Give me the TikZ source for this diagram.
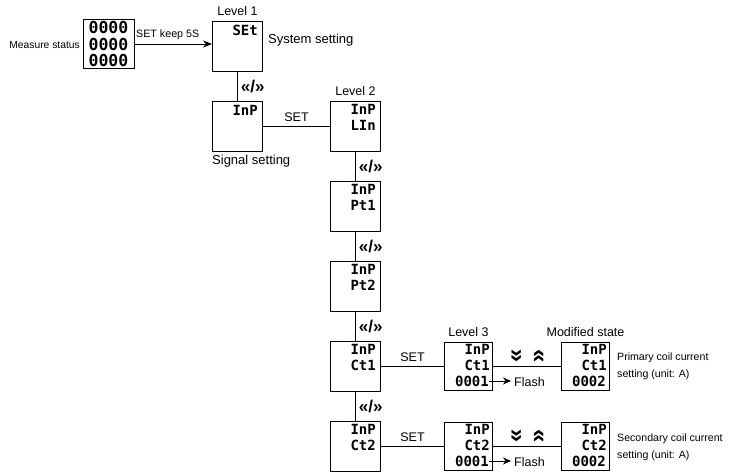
\documentclass[tikz,border=0pt]{standalone}
\usepackage{fontspec}
\setmainfont{Liberation Sans}
\newfontfamily\segfont{DejaVu Sans Mono}
\usetikzlibrary{arrows.meta, positioning, calc}

\begin{document}
\begin{tikzpicture}[x=1pt, y=-1pt,
    panel/.style={draw, line width=1pt, minimum width=50pt, minimum height=50pt, inner sep=0pt, anchor=north west},
    smallpanel/.style={panel, minimum width=48pt, minimum height=48pt},
    lcd/.style={font=\segfont\bfseries\fontsize{14}{14}\selectfont, inner sep=0pt, anchor=east},
    bigdigit/.style={font=\segfont\bfseries\fontsize{16.5}{16.5}\selectfont, inner sep=0pt},
    lbl/.style={font=\fontsize{12.5}{14}\selectfont, inner sep=0pt},
    note/.style={font=\fontsize{10.6}{17}\selectfont, inner sep=0pt, anchor=west, align=left},
    swap/.style={font=\bfseries\fontsize{17}{17}\selectfont, inner sep=0pt},
    chev/.style={font=\bfseries\fontsize{24}{24}\selectfont, inner sep=0pt},
    link/.style={line width=0.9pt}]
    \useasboundingbox (0,0) rectangle (729,472);

    % measure status
    \node[panel, minimum width=51pt, minimum height=49pt] (meas) at (83,19) {};
    \node[bigdigit] (m1) at (108.5,27) {0000};
    \node[bigdigit] (m2) at (108.5,44) {0000};
    \node[bigdigit] (m3) at (108.5,60) {0000};
    \node[font=\fontsize{10.3}{12}\selectfont, inner sep=0pt, anchor=east] (mtxt) at (80,45) {Measure status};

    % level 1
    \node[panel] (lv1) at (212,21) {};
    \node[lcd] (set) at ($(lv1.north east)+(-5,9)$) {SEt};
    \node[lbl, above=5pt of lv1] (lev1) {Level 1};
    \node[lbl, font=\fontsize{13}{15}\selectfont, anchor=west] (sys) at (268,40) {System setting};
    \node[panel] (inp) at (212,101) {};
    \node[lcd] (inpt) at ($(inp.north east)+(-5,9)$) {InP};
    \node[lbl, font=\fontsize{13}{15}\selectfont, anchor=west] (sig) at (212,161) {Signal setting};

    \draw[link, -{Stealth[length=9pt, width=7pt]}] (meas.east) -- (meas.east -| lv1.west);
    \node[font=\fontsize{10.7}{12}\selectfont, inner sep=0pt, anchor=base west] (keep) at (136,37) {SET keep 5S};
    \draw[link] (lv1.south) -- node[swap, right=3pt] (sw0) {«/»} (inp.north);

    % level 2
    \node[panel] (lin) at (330,101) {};
    \node[panel] (pt1) at (330,181) {};
    \node[panel] (pt2) at (330,261) {};
    \node[panel] (ct1) at (330,341) {};
    \node[panel] (ct2) at (330,421) {};
    \node[lbl, above=5pt of lin] (lev2) {Level 2};
    \foreach \b/\t in {lin/LIn, pt1/Pt1, pt2/Pt2, ct1/Ct1, ct2/Ct2} {
        \node[lcd] (\b a) at ($(\b.north east)+(-5,8)$) {InP};
        \node[lcd] (\b b) at ($(\b.north east)+(-5,24)$) {\t};
    }
    \draw[link] (inp.east) -- node[lbl, above=4pt] (set1) {SET} (lin.west);
    \draw[link] (lin.south) -- node[swap, right=3pt] (sw1) {«/»} (pt1.north);
    \draw[link] (pt1.south) -- node[swap, right=3pt] (sw2) {«/»} (pt2.north);
    \draw[link] (pt2.south) -- node[swap, right=3pt] (sw3) {«/»} (ct1.north);
    \draw[link] (ct1.south) -- node[swap, right=3pt] (sw4) {«/»} (ct2.north);

    % level 3
    \node[smallpanel] (l3a) at (444,342) {};
    \node[smallpanel] (moda) at (561,342) {};
    \node[smallpanel] (l3b) at (444,422) {};
    \node[smallpanel] (modb) at (561,422) {};
    \node[lbl, above=5pt of l3a] (lev3) {Level 3};
    \node[lbl, above=5pt of moda] (modst) {Modified state};
    \foreach \b/\t/\v in {l3a/Ct1/0001, moda/Ct1/0002, l3b/Ct2/0001, modb/Ct2/0002} {
        \node[lcd] (\b x) at ($(\b.north east)+(-3,7)$) {InP};
        \node[lcd] (\b y) at ($(\b.north east)+(-3,23)$) {\t};
        \node[lcd] (\b z) at ($(\b.north east)+(-4,39)$) {\v};
    }
    \draw[link] (ct1.east) -- node[lbl, above=4pt] (set2) {SET} (l3a.west);
    \draw[link] (ct2.east) -- node[lbl, above=4pt] (set3) {SET} (l3b.west);
    \draw[link] (l3a.east) -- (moda.west);
    \draw[link] (l3b.east) -- (modb.west);

    \node[chev, rotate=90] (dn1) at (517,356) {«};
    \node[chev, rotate=-90] (up1) at (538,356) {«};
    \node[chev, rotate=90] (dn2) at (517,436) {«};
    \node[chev, rotate=-90] (up2) at (538,436) {«};

    \coordinate (fa) at (511,381);
    \coordinate (fb) at (511,461);
    \draw[link, -{Stealth[length=8pt, width=7pt]}] (l3az.east) -- (fa);
    \draw[link, -{Stealth[length=8pt, width=7pt]}] (l3bz.east) -- (fb);
    \node[lbl, font=\fontsize{12.5}{14}\selectfont, anchor=west] (fl1) at (514,382) {Flash};
    \node[lbl, font=\fontsize{12.5}{14}\selectfont, anchor=west] (fl2) at (514,462) {Flash};

    \node[note] (n1) at (617,366) {Primary coil current\\setting (unit: A)};
    \node[note] (n2) at (617,447) {Secondary coil current\\setting (unit: A)};
\end{tikzpicture}
\end{document}
